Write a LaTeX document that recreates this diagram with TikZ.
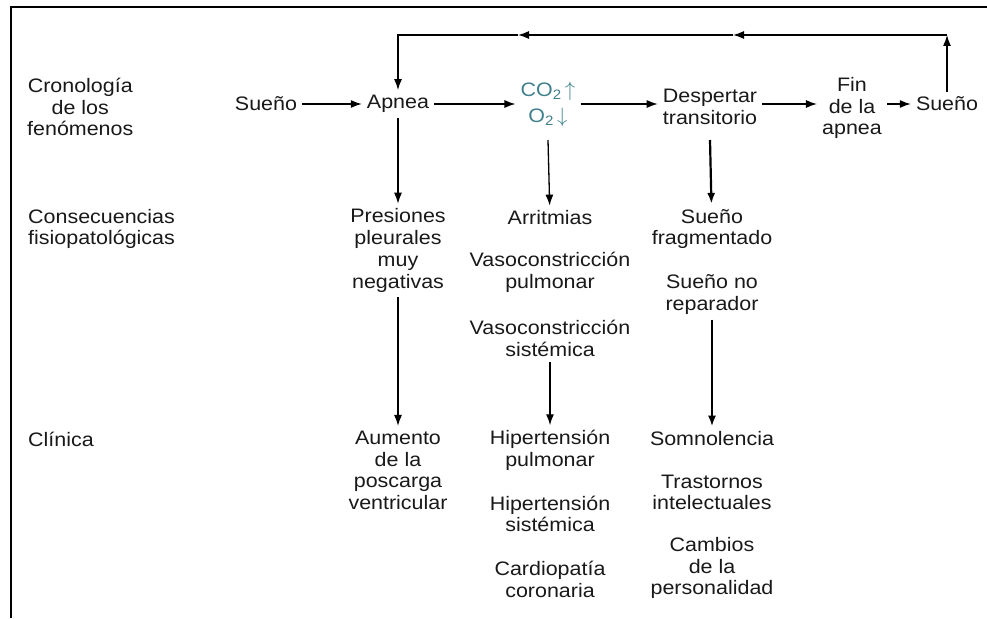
\documentclass[tikz,border=0pt]{standalone}
\usepackage{fontspec}
\setmainfont[FakeStretch=1.1]{Liberation Sans}
\usetikzlibrary{arrows.meta,calc}
\definecolor{TxtClr}{rgb}{0.1,0.1,0.1}
\definecolor{GasClr}{rgb}{0.25,0.5,0.55}

\begin{document}
\begin{tikzpicture}[x=1pt,y=-1pt,
  txt/.style={font=\fontsize{19.5}{21.7}\selectfont,text=TxtClr,align=center,inner sep=5pt},
  lbl/.style={txt,anchor=west,inner sep=0pt},
  arr/.style={-{Latex[length=11pt,width=8pt]},line width=1.3pt},
  thickarr/.style={arr,line width=2.2pt}]
\useasboundingbox (0,0) rectangle (987,618);
\draw[line width=1.6pt] (11,618) -- (11,7) -- (987,7);

% etiquetas de las filas
\node[lbl] (cron) at (27,107) {Cronología\\de los\\fenómenos};
\node[lbl] (cons) at (28,229) {Consecuencias\\fisiopatológicas};
\node[lbl] (clin) at (28,439) {Clínica};

% cronologia
\node[txt] (sueno) at (266,104) {Sueño};
\node[txt] (apnea) at (398,104) {Apnea};
\node[txt,text=GasClr] (gas) at (548,104) {CO\textsubscript{2}\,$\uparrow$\\[4pt]O\textsubscript{2}\,$\downarrow$};
\node[txt] (desp) at (710,107) {Despertar\\transitorio};
\node[txt] (fin) at (852,108) {Fin\\de la\\apnea};
\node[txt] (suenob) at (947,104) {Sueño};

% consecuencias
\node[txt] (pres) at (398,250.5) {Presiones\\pleurales\\muy\\negativas};
\node[txt] (arrit) at (550,218) {Arritmias};
\node[txt] (vpul) at (550,272.5) {Vasoconstricción\\pulmonar};
\node[txt] (vsis) at (550,338.5) {Vasoconstricción\\sistémica};
\node[txt] (sfrag) at (712,229) {Sueño\\fragmentado};
\node[txt] (snorep) at (712,294.5) {Sueño no\\reparador};

% clinica
\node[txt] (aum) at (398,470.5) {Aumento\\de la\\poscarga\\ventricular};
\node[txt] (hpul) at (550,450.5) {Hipertensión\\pulmonar};
\node[txt] (hsis) at (550,514) {Hipertensión\\sistémica};
\node[txt] (card) at (550,579.5) {Cardiopatía\\coronaria};
\node[txt] (somn) at (712,439) {Somnolencia};
\node[txt] (trast) at (712,492.5) {Trastornos\\intelectuales};
\node[txt] (camb) at (712,568) {Cambios\\de la\\personalidad};

% flechas horizontales
\draw[arr] (sueno) -- (apnea);
\draw[arr] (apnea) -- (gas.west |- apnea);
\draw[arr] (gas.east |- apnea) -- (desp.west |- apnea);
\draw[arr] (desp.east |- apnea) -- (fin.west |- apnea);
\draw[arr] (fin.east |- apnea) -- (suenob.west);

% vuelta al sueno
\coordinate (tr) at (947,35);
\coordinate (m1) at (733,35);
\coordinate (m2) at (518,35);
\coordinate (tl) at (398,35);
\draw[arr] (suenob) -- (tr);
\draw[arr] (tr) -- (m1);
\draw[arr] (m1) -- (m2);
\draw[arr] (m2) -- (tl) -- (apnea);

% flechas verticales
\draw[arr] (apnea) -- (pres);
\draw[arr] (gas.south |- 0,140) -- (arrit);
\draw[thickarr] (desp.south |- 0,140) -- (sfrag);
\draw[arr] (pres) -- (aum);
\draw[arr] (vsis) -- (hpul);
\draw[thickarr] (snorep) -- (somn);

\end{tikzpicture}
\end{document}
